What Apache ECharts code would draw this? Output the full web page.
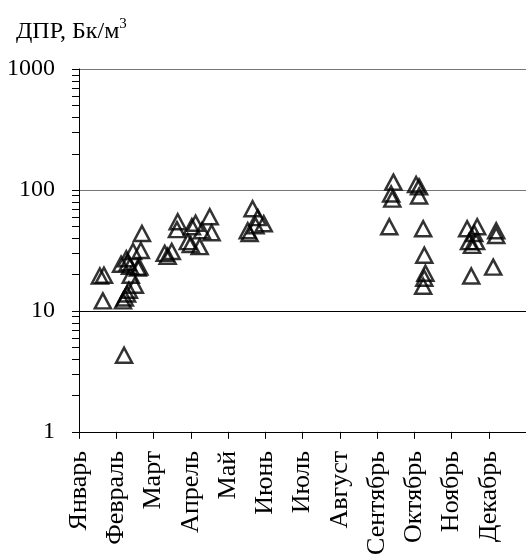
<!DOCTYPE html>
<html>
<head>
<meta charset="utf-8">
<script src="https://cdn.jsdelivr.net/npm/echarts@6/dist/echarts.min.js"></script>
<style>
html,body{margin:0;padding:0;background:#fff;}
#chart{width:526px;height:558px;}
</style>
</head>
<body>
<div id="chart"></div>
<script>
// Month labels (placed at the start of each month on a 0..12 month scale)
const months = ['Январь','Февраль','Март','Апрель','Май','Июнь','Июль','Август','Сентябрь','Октябрь','Ноябрь','Декабрь'];
// Y tick labels (log axis)
const yTicks = [1, 10, 100, 1000];
// Minor tick values on the log axis
const yMinorTicks = [2,3,4,5,6,7,8,9,20,30,40,50,60,70,80,90,200,300,400,500,600,700,800,900];
// Measurements: position in months (0 = start of January) and ДПР value, Бк/м³
const monthPos = [
  0.56, 0.67, 0.64,
  1.13, 1.21, 1.18, 1.23, 1.29, 1.34, 1.50, 1.39, 1.37, 1.58, 1.45, 1.66, 1.69, 1.62, 1.27, 1.31,
  2.30, 2.38, 2.49, 2.65, 2.63, 3.03, 3.13, 2.92, 3.00, 3.24, 3.30, 3.51, 3.56,
  4.58, 4.53, 4.66, 4.80, 4.74, 4.96,
  8.44, 8.38, 8.41, 8.33,
  9.05, 9.13, 9.13, 9.24, 9.27, 9.30, 9.27, 9.24,
  10.42, 10.69, 10.61, 10.47, 10.55, 10.66, 10.53,
  11.20, 11.20, 11.12
];
const dprValues = [
  19.4, 19.7, 12.1,
  24.3, 4.3, 12.1, 12.8, 13.8, 14.8, 16.3, 19.7, 23.4, 22.6, 31, 31.6, 43.6, 23, 27, 25,
  29.9, 28.3, 31, 54.6, 47, 49.6, 53, 37.4, 35.4, 34, 46, 60, 44.3,
  43.6, 46, 70, 59, 50.6, 52.6,
  116, 92.7, 84, 49.6,
  111, 106, 89, 47.8, 28.8, 20.5, 18.6, 16,
  47.8, 49.6, 43.6, 37.4, 34.8, 37.4, 19.4,
  46, 42, 23
];

const points = monthPos.map((m, i) => [m, dprValues[i]]);

const FONT = '"Liberation Serif", "Times New Roman", serif';
const chart = echarts.init(document.getElementById('chart'), null, {renderer: 'canvas'});
chart.setOption({
  animation: false,
  backgroundColor: '#fff',
  title: {
    text: '{a|ДПР, Бк/м}{b|3}',
    left: 11, top: 12,
    textStyle: {
      rich: {
        a: {fontFamily: FONT, fontSize: 24, fontWeight: 'normal', color: '#000'},
        b: {fontFamily: FONT, fontSize: 15, fontWeight: 'normal', color: '#000', padding: [0, 0, 14, 0]}
      }
    }
  },
  grid: {left: 79, right: 0, top: 69, bottom: 123, containLabel: false},
  xAxis: {
    type: 'value', min: 0, max: 12, interval: 1,
    axisLine: {show: true, onZero: false, lineStyle: {color: '#000', width: 1}},
    axisTick: {show: true, inside: false, length: 7, lineStyle: {color: '#000'}},
    axisLabel: {
      rotate: 90, margin: 19, color: '#000', fontFamily: FONT, fontSize: 26,
      formatter: v => months[Math.round(v)] || ''
    },
    splitLine: {show: false}
  },
  yAxis: {
    type: 'log', logBase: 10, min: 1, max: 1000,
    axisLine: {show: true, lineStyle: {color: '#000', width: 1}},
    axisTick: {show: true, length: 7, lineStyle: {color: '#000', width: 1}},
    axisLabel: {margin: 24, color: '#000', fontFamily: FONT, fontSize: 24,
      formatter: v => String(yTicks.find(t => Math.abs(t - v) < 1e-6 * t) ?? '')},
    splitLine: {show: true, lineStyle: {color: ['#000', '#000', '#777', '#777'], width: 1}}
  },
  series: [{
    type: 'scatter',
    data: points,
    symbol: 'triangle',
    symbolSize: [16, 15],
    itemStyle: {color: 'rgba(0,0,0,0)', borderColor: '#000', borderWidth: 2.5},
    emphasis: {disabled: true},
    z: 5
  }]
});

// minor log ticks, positioned through the axis scale
const minorEls = yMinorTicks.map(v => {
  const p = chart.convertToPixel({gridIndex: 0}, [0, v]);
  const y = Math.round(p[1]) + 0.5;
  return {
    type: 'line', silent: true, z: 10,
    shape: {x1: Math.round(p[0]) - 7, y1: y, x2: Math.round(p[0]), y2: y},
    style: {stroke: '#000', lineWidth: 1}
  };
});
chart.setOption({graphic: {elements: minorEls}});
</script>
</body>
</html>
